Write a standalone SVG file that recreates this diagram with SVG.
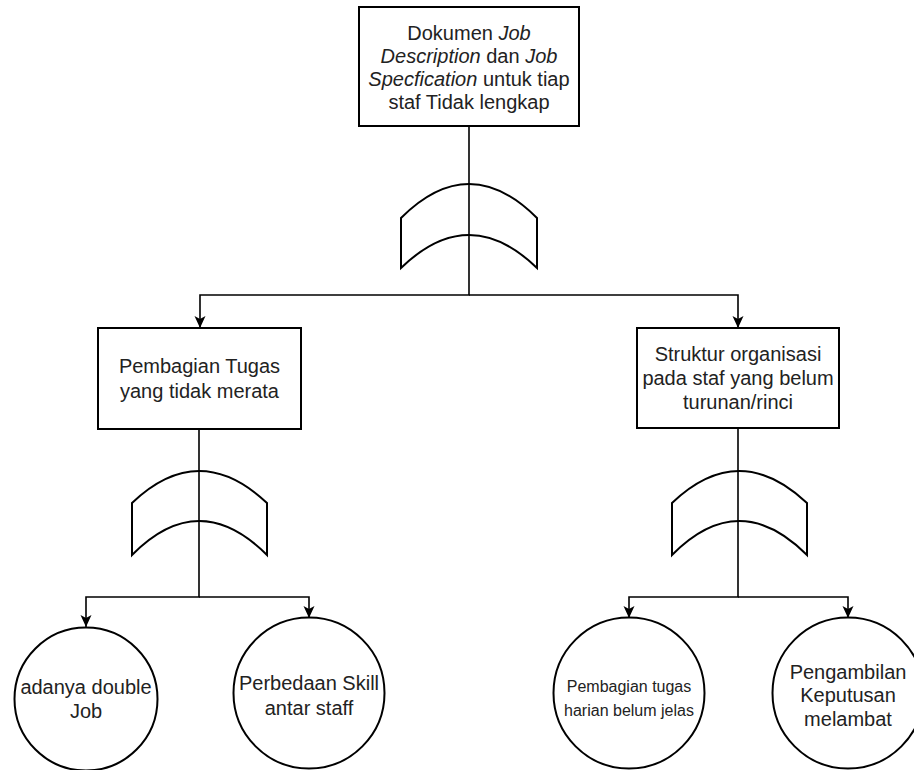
<svg xmlns="http://www.w3.org/2000/svg" width="914" height="770" viewBox="0 0 914 770">
<defs>
<marker id="arr" viewBox="0 0 12 12" refX="12" refY="6" markerWidth="12" markerHeight="12" markerUnits="userSpaceOnUse" orient="auto">
<path d="M0,0.5 L12,6 L0,11.5 L3,6 Z" fill="#000"/>
</marker>
<style>
.box{fill:#fff;stroke:#000;stroke-width:2}
.gate{fill:#fff;stroke:#000;stroke-width:2}
.ln{fill:none;stroke:#000;stroke-width:1.6}
text{font-family:"Liberation Sans",Arial,sans-serif;font-size:20px;fill:#222;text-anchor:middle}
.sm{font-size:16px}
.it{font-style:italic}
</style>
</defs>
<rect width="914" height="770" fill="#fff"/>
<g id="gates">
<path class="gate" d="M401,218 Q469,150 537,218 L537,268 Q469,202 401,268 Z"/>
<path class="gate" d="M132,503 Q199,439 267,503 L267,555 Q199,487 132,555 Z"/>
<path class="gate" d="M672,503 Q739,439 807,503 L807,555 Q739,487 672,555 Z"/>
</g>
<g id="connectors">
<path class="ln" d="M469,126 V295 H200 V328" marker-end="url(#arr)"/>
<path class="ln" d="M469,295 H738 V328" marker-end="url(#arr)"/>
<path class="ln" d="M199,429 V597 H86 V627" marker-end="url(#arr)"/>
<path class="ln" d="M199,597 H309 V618" marker-end="url(#arr)"/>
<path class="ln" d="M738,428 V597 H629 V618" marker-end="url(#arr)"/>
<path class="ln" d="M738,597 H848 V618" marker-end="url(#arr)"/>
</g>
<g id="n-top">
<rect class="box" x="359" y="7" width="220" height="119"/>
<text x="469" y="40">Dokumen <tspan class="it">Job</tspan></text>
<text x="469" y="63"><tspan class="it">Description</tspan> dan <tspan class="it">Job</tspan></text>
<text x="469" y="86"><tspan class="it">Specfication</tspan> untuk tiap</text>
<text x="469" y="109">staf Tidak lengkap</text>
</g>
<g id="n-left">
<rect class="box" x="98" y="328" width="203" height="101"/>
<text x="199.5" y="373">Pembagian Tugas</text>
<text x="199.5" y="398">yang tidak merata</text>
</g>
<g id="n-right">
<rect class="box" x="637" y="328" width="202" height="100"/>
<text x="738" y="361">Struktur organisasi</text>
<text x="738" y="385">pada staf yang belum</text>
<text x="738" y="409">turunan/rinci</text>
</g>
<g id="c1">
<circle class="box" cx="86" cy="699" r="71.5"/>
<text x="86" y="694">adanya double</text>
<text x="86" y="718">Job</text>
</g>
<g id="c2">
<circle class="box" cx="309" cy="693" r="75.5"/>
<text x="309" y="690">Perbedaan Skill</text>
<text x="309" y="715">antar staff</text>
</g>
<g id="c3">
<circle class="box" cx="629" cy="693" r="75.5"/>
<text class="sm" x="629" y="692">Pembagian tugas</text>
<text class="sm" x="629" y="716">harian belum jelas</text>
</g>
<g id="c4">
<circle class="box" cx="848" cy="693" r="75.5"/>
<text x="848" y="679">Pengambilan</text>
<text x="848" y="702">Keputusan</text>
<text x="848" y="726">melambat</text>
</g>
</svg>
